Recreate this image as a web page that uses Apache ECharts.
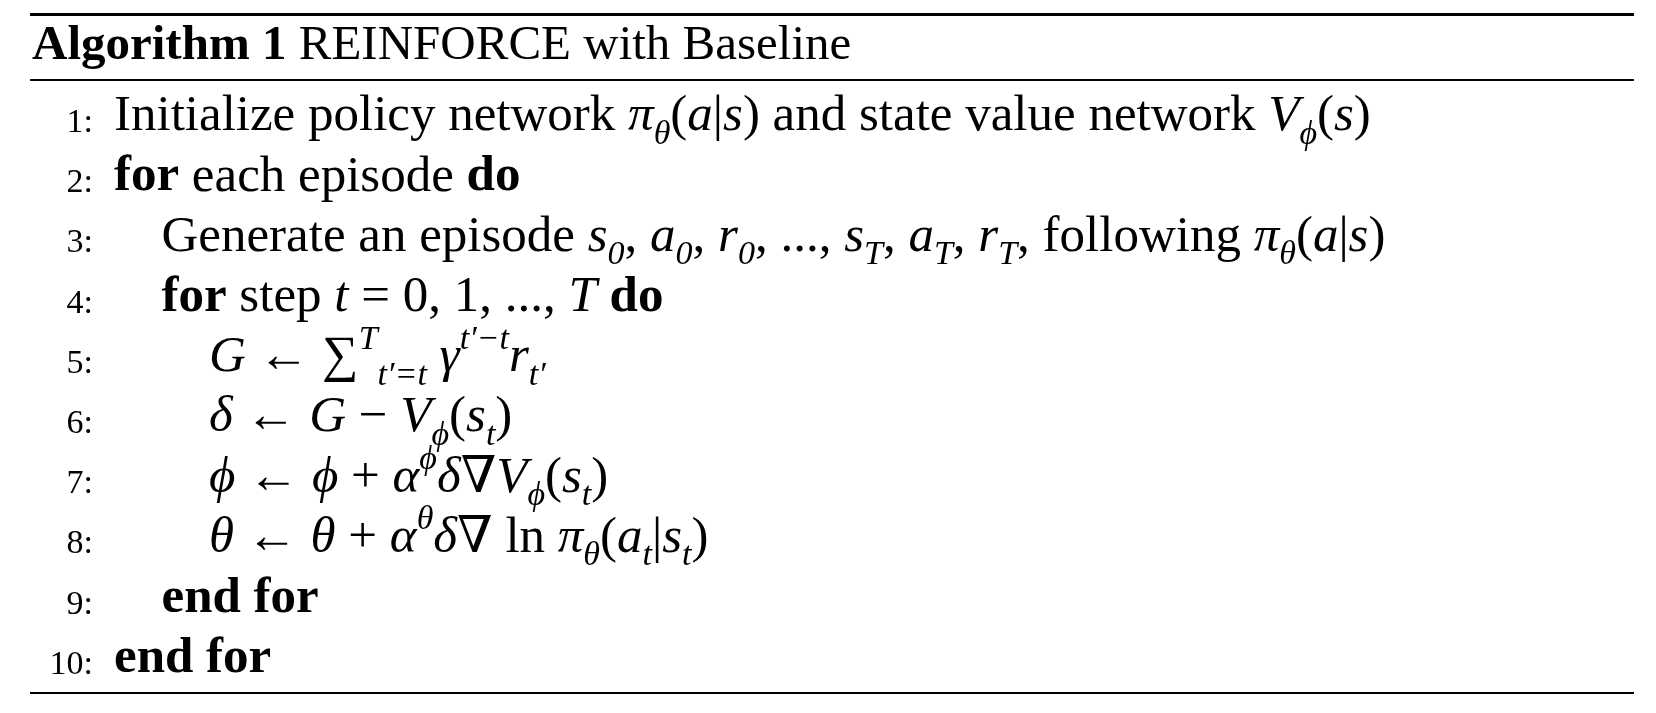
<!DOCTYPE html>
<html>
<head>
<meta charset="utf-8">
<script src="https://cdn.jsdelivr.net/npm/echarts@6/dist/echarts.min.js"></script>
<style>html,body{margin:0;background:#fff}#chart{width:1656px;height:713px}</style>
</head>
<body>
<div id="chart"></div>
<script>
const title = ['{hb|Algorithm 1} REINFORCE with Baseline'];
const lineNumbers = ['1:', '2:', '3:', '4:', '5:', '6:', '7:', '8:', '9:', '10:'];
const lineIndent = [0, 0, 1, 1, 2, 2, 2, 2, 1, 0];
const lineText = [
    'Initialize policy network {i|π}{sb|θ}({i|a}|{i|s}) and state value network {i|V}{sb|ϕ}({i|s})',
    '{b|for} each episode {b|do}',
    'Generate an episode {i|s}{sb|0}, {i|a}{sb|0}, {i|r}{sb|0}, ..., {i|s}{sb|T}, {i|a}{sb|T}, {i|r}{sb|T}, following {i|π}{sb|θ}({i|a}|{i|s})',
    '{b|for} step {i|t} = 0, 1, ..., {i|T} {b|do}',
    '{i|G} ← ∑{sp|T}{sb|t′=t} {i|γ}{sp|t′−t}{i|r}{sb|t′}',
    '{i|δ} ← {i|G} − {i|V}{sb|ϕ}({i|s}{sb|t})',
    '{i|ϕ} ← {i|ϕ} + {i|α}{sp|ϕ}{i|δ}∇{i|V}{sb|ϕ}({i|s}{sb|t})',
    '{i|θ} ← {i|θ} + {i|α}{sp|θ}{i|δ}∇ ln {i|π}{sb|θ}({i|a}{sb|t}|{i|s}{sb|t})',
    '{b|end for}',
    '{b|end for}'
];

const font = '"Liberation Serif", "DejaVu Serif", serif';
const rich = {
    b: { fontWeight: 'bold', fontSize: 51, fontFamily: font, fill: '#000', lineHeight: 70 },
    hb: { fontWeight: 'bold', fontSize: 49, fontFamily: font, fill: '#000', lineHeight: 70 },
    i: { fontStyle: 'italic', fontSize: 51, fontFamily: font, fill: '#000', lineHeight: 70 },
    sb: { fontStyle: 'italic', fontSize: 34, fontFamily: font, fill: '#000', verticalAlign: 'bottom', lineHeight: 52 },
    sp: { fontStyle: 'italic', fontSize: 34, fontFamily: font, fill: '#000', verticalAlign: 'top', lineHeight: 52 }
};

const chart = echarts.init(document.getElementById('chart'));
const elements = [
    { type: 'rect', shape: { x: 30, y: 13, width: 1604, height: 3 }, style: { fill: '#000' } },
    { type: 'rect', shape: { x: 30, y: 79, width: 1604, height: 2 }, style: { fill: '#000' } },
    { type: 'rect', shape: { x: 30, y: 692, width: 1604, height: 2 }, style: { fill: '#000' } },
    {
        type: 'text', x: 32, y: 46,
        style: { text: title[0], rich, fontSize: 49, fontFamily: font, fill: '#000', verticalAlign: 'middle' }
    }
];
lineNumbers.forEach((n, k) => {
    const y = 117 + k * 60.2;
    elements.push({
        type: 'text', x: 93, y: y + 6,
        style: { text: n, fontSize: 34, fontFamily: font, fill: '#000', align: 'right', verticalAlign: 'middle' }
    });
    elements.push({
        type: 'text', x: 114 + lineIndent[k] * 47.5, y: y,
        style: { text: lineText[k], rich, fontSize: 51, fontFamily: font, fill: '#000', verticalAlign: 'middle' }
    });
});

chart.setOption({ animation: false, graphic: { elements } });
window.addEventListener('resize', () => chart.resize());
</script>
</body>
</html>
